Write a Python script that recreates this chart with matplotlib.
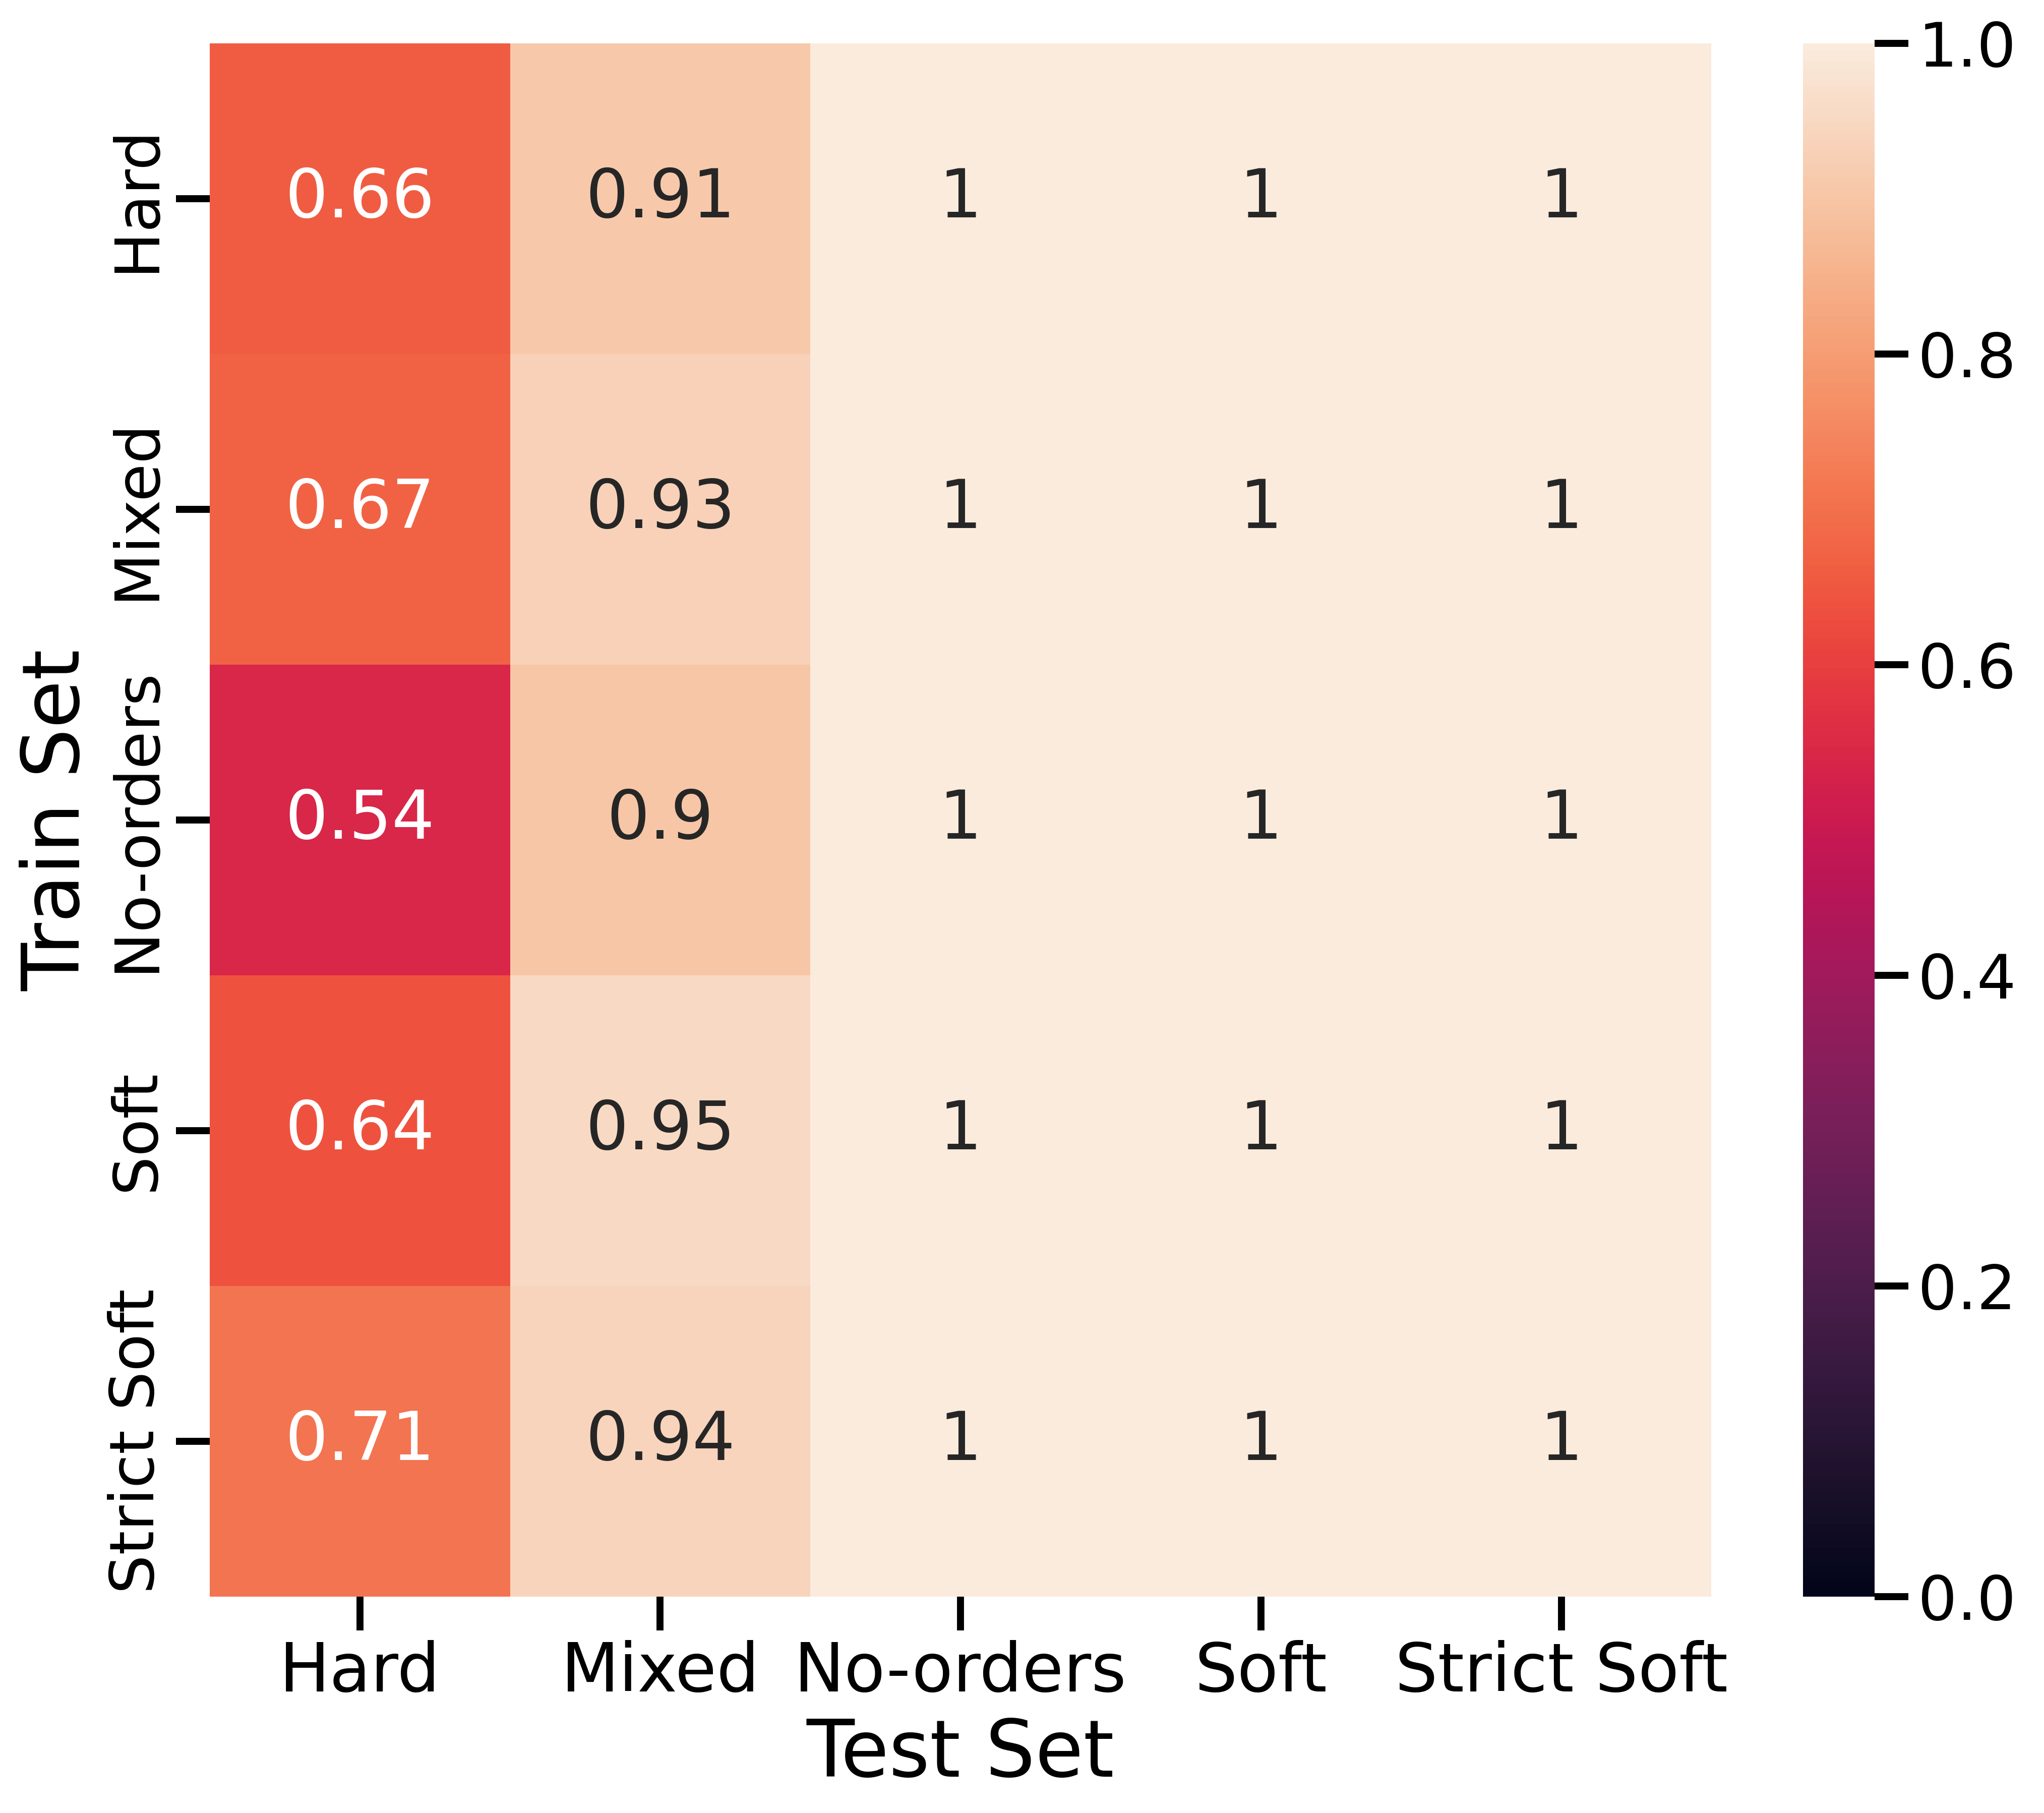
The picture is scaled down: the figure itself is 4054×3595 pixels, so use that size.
import numpy as np
import pandas as pd
import matplotlib
matplotlib.use("Agg")
import matplotlib.pyplot as plt
import seaborn as sns

sets = ["Hard", "Mixed", "No-orders", "Soft", "Strict Soft"]
hard_col = [0.66, 0.67, 0.54, 0.64, 0.71]
mixed_col = [0.91, 0.93, 0.90, 0.95, 0.94]
noorders_col = [1, 1, 1, 1, 1]
soft_col = [1, 1, 1, 1, 1]
strict_col = [1, 1, 1, 1, 1]

df = pd.DataFrame({
    "Hard": hard_col,
    "Mixed": mixed_col,
    "No-orders": noorders_col,
    "Soft": soft_col,
    "Strict Soft": strict_col,
}, index=sets)

sns.set_context("poster")

fig = plt.figure(figsize=(4054 / 400, 3595 / 400), dpi=400)
ax = fig.add_axes([0.1026, 0.1193, 0.7347, 0.8569])
cax = fig.add_axes([0.8822, 0.1193, 0.035, 0.8569])

sns.heatmap(df, annot=True, vmin=0, vmax=1, ax=ax, cbar_ax=cax)
ax.tick_params(axis="x", labelsize=24)
ax.set_xlabel("Test Set", fontsize=28)
ax.set_ylabel("Train Set", fontsize=28)

fig.savefig("out.png", dpi=400)
